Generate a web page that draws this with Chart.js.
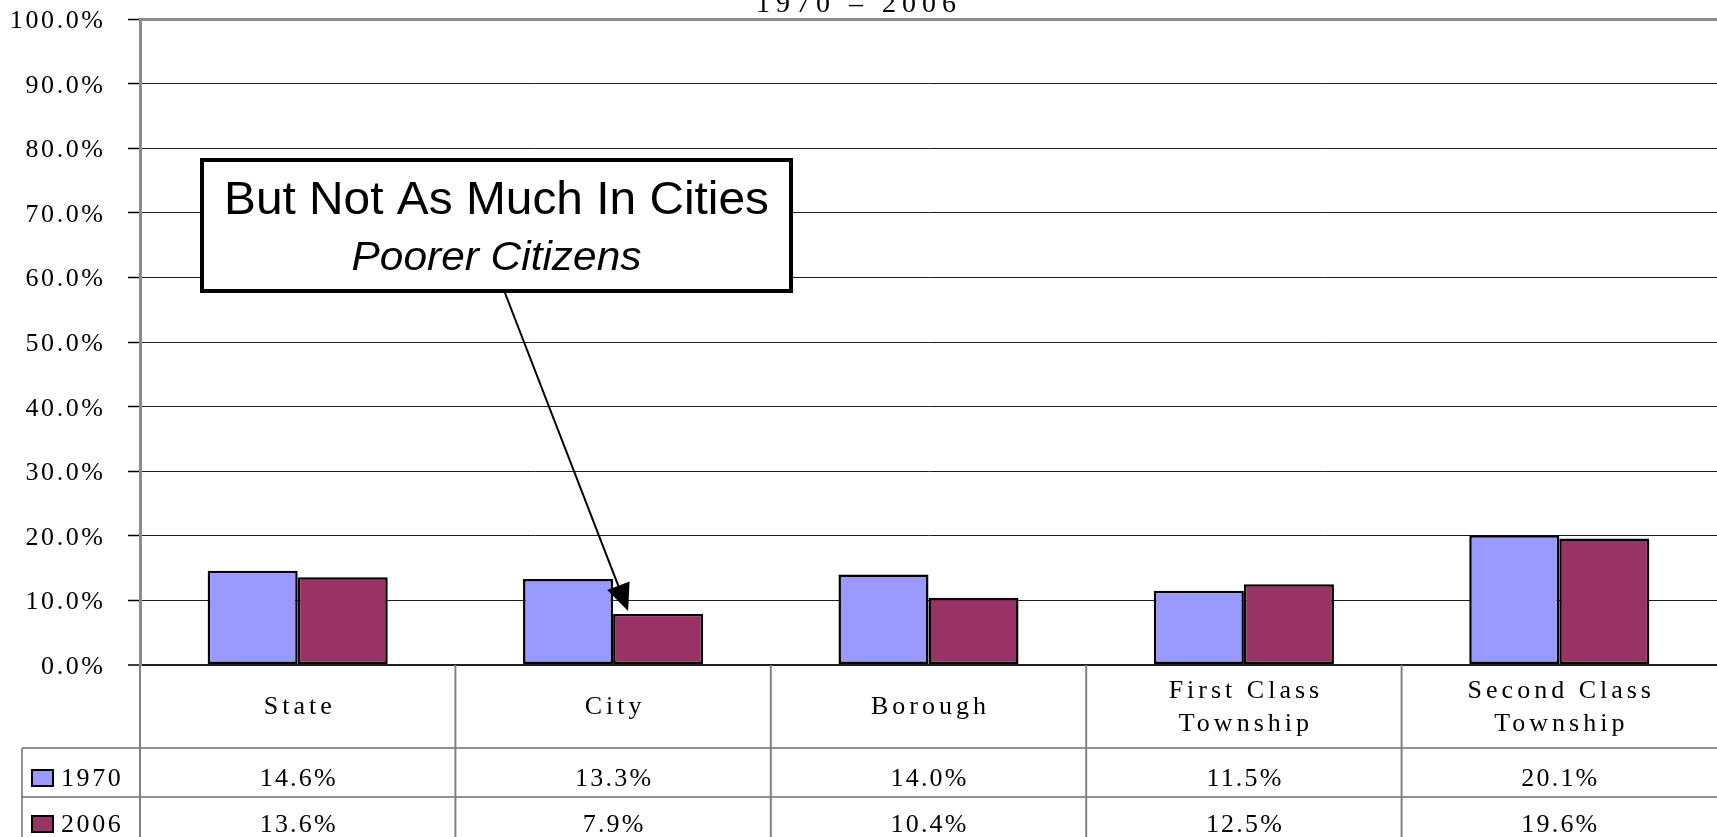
<!DOCTYPE html>
<html>
<head>
<meta charset="utf-8">
<script src="https://cdn.jsdelivr.net/npm/chart.js@4.4.1/dist/chart.umd.min.js"></script>
<style>
  html, body { margin: 0; padding: 0; background: #fff; overflow: hidden; }
  canvas { display: block; }
</style>
</head>
<body>
<canvas id="barChart" width="1717" height="837"></canvas>
<script>
const categories = [['State'], ['City'], ['Borough'], ['First Class', 'Township'], ['Second Class', 'Township']];
const seriesNames = ['1970', '2006'];
const values1970 = [14.6, 13.3, 14.0, 11.5, 20.1];
const values2006 = [13.6, 7.9, 10.4, 12.5, 19.6];
const seriesColors = ['#9999FF', '#993366'];
const yTicks = [0, 10, 20, 30, 40, 50, 60, 70, 80, 90, 100];
const titleText = '1970 \u2013 2006';
const calloutLines = ['But Not As Much In Cities', 'Poorer Citizens'];

const SERIF = '"Liberation Serif", "Times New Roman", serif';
const SANS = '"Liberation Sans", Arial, sans-serif';

function pct(v) {
    return v.toFixed(1) + '%';
}

// text with letter spacing, optional horizontal stretch
function drawText(ctx, str, x, y, font, align, spacing, sx) {
    ctx.save();
    ctx.font = font;
    ctx.fillStyle = '#000';
    ctx.textBaseline = 'alphabetic';
    if ('letterSpacing' in ctx) ctx.letterSpacing = (spacing || 0) + 'px';
    const w = ctx.measureText(str).width - (spacing || 0);
    const s = sx || 1;
    let left = x;
    if (align === 'center') left = x - w * s / 2;
    if (align === 'right') left = x - w * s;
    ctx.translate(left, y);
    ctx.scale(s, 1);
    ctx.textAlign = 'left';
    ctx.fillText(str, 0, 0);
    ctx.restore();
}

const tablePlugin = {
    id: 'tablePlugin',
    afterDraw(chart) {
        const ctx = chart.ctx;
        const xs = chart.scales.x;
        const ys = chart.scales.y;
        const area = chart.chartArea;

        // y tick labels
        ys.ticks.forEach(t => {
            const y = ys.getPixelForValue(t.value);
            drawText(ctx, pct(t.value), 103, y + 9, '26px ' + SERIF, 'right', 2.6);
        });

        // title (second line, mostly cut off at top)
        drawText(ctx, titleText, 856, 12, '28px ' + SERIF, 'center', 6);

        // data table
        const headTop = area.bottom;
        const row1 = 748, row2 = 797, bottom = chart.height;
        const n = categories.length;
        const half = (xs.getPixelForValue(1) - xs.getPixelForValue(0)) / 2;

        ctx.save();
        ctx.strokeStyle = '#6e6e6e';
        ctx.lineWidth = 1.5;
        ctx.beginPath();
        ctx.moveTo(22, row1); ctx.lineTo(area.right, row1);
        ctx.moveTo(22, row2); ctx.lineTo(area.right, row2);
        ctx.moveTo(22, row1); ctx.lineTo(22, bottom);
        ctx.stroke();
        ctx.strokeStyle = '#808080';
        ctx.lineWidth = 2;
        ctx.beginPath();
        ctx.moveTo(area.left, headTop); ctx.lineTo(area.left, bottom);
        for (let i = 0; i < n - 1; i++) {
            const bx = xs.getPixelForValue(i) + half;
            ctx.moveTo(bx, headTop); ctx.lineTo(bx, bottom);
        }
        ctx.stroke();
        ctx.restore();

        categories.forEach((lab, i) => {
            const cx = xs.getPixelForValue(i);
            if (lab.length === 1) {
                drawText(ctx, lab[0], cx, 714, '26px ' + SERIF, 'center', 4);
            } else {
                drawText(ctx, lab[0], cx, 698, '26px ' + SERIF, 'center', 4);
                drawText(ctx, lab[1], cx, 731, '26px ' + SERIF, 'center', 4);
            }
            drawText(ctx, pct(values1970[i]), cx, 786, '26px ' + SERIF, 'center', 2.2);
            drawText(ctx, pct(values2006[i]), cx, 832, '26px ' + SERIF, 'center', 2.2);
        });

        // legend keys in the table
        const keyRows = [786, 832];
        seriesNames.forEach((name, k) => {
            const base = keyRows[k];
            ctx.save();
            ctx.fillStyle = seriesColors[k];
            ctx.strokeStyle = '#000';
            ctx.lineWidth = 2;
            ctx.fillRect(32, base - 16, 21, 16);
            ctx.strokeRect(32, base - 16, 21, 16);
            ctx.restore();
            drawText(ctx, name, 61, base, '26px ' + SERIF, 'left', 2.6);
        });

        // callout box
        const box = { l: 202, t: 160, r: 791, b: 291 };
        ctx.save();
        ctx.fillStyle = '#fff';
        ctx.fillRect(box.l, box.t, box.r - box.l, box.b - box.t);
        ctx.strokeStyle = '#000';
        ctx.lineWidth = 4;
        ctx.strokeRect(box.l, box.t, box.r - box.l, box.b - box.t);
        ctx.restore();
        const bcx = (box.l + box.r) / 2;
        drawText(ctx, calloutLines[0], bcx, 214, '46px ' + SANS, 'center', 0, 1.04);
        drawText(ctx, calloutLines[1], bcx, 270, 'italic 40px ' + SANS, 'center', 0, 1.06);

        // arrow to the 2006 City bar
        const bar = chart.getDatasetMeta(1).data[1];
        const tipX = bar.x - 30, tipY = bar.y - 3;
        const sx = 505, sy = box.b + 2;
        const ang = Math.atan2(tipY - sy, tipX - sx);
        const hl = 27, hw = 12;
        const bx0 = tipX - hl * Math.cos(ang), by0 = tipY - hl * Math.sin(ang);
        ctx.save();
        ctx.strokeStyle = '#000';
        ctx.fillStyle = '#000';
        ctx.lineWidth = 2;
        ctx.beginPath();
        ctx.moveTo(sx, sy);
        ctx.lineTo(bx0, by0);
        ctx.stroke();
        ctx.beginPath();
        ctx.moveTo(tipX, tipY);
        ctx.lineTo(bx0 + hw * Math.sin(ang), by0 - hw * Math.cos(ang));
        ctx.lineTo(bx0 - hw * Math.sin(ang), by0 + hw * Math.cos(ang));
        ctx.closePath();
        ctx.fill();
        ctx.restore();
    }
};

document.addEventListener('DOMContentLoaded', function() {
    const el = document.getElementById('barChart');
    new Chart(el, {
        type: 'bar',
        data: {
            labels: categories,
            datasets: [
                {
                label: seriesNames[0],
                data: values1970,
                backgroundColor: seriesColors[0],
                borderColor: '#000',
                borderWidth: 2.5,
                borderSkipped: false
                },
                {
                label: seriesNames[1],
                data: values2006,
                backgroundColor: seriesColors[1],
                borderColor: '#000',
                borderWidth: 2.5,
                borderSkipped: false
                }
            ]},
        options: {
            responsive: false,
            animation: false,
            events: [],
            layout: { padding: { top: 19, bottom: 172, left: 0, right: 0 } },
            datasets: { bar: { barPercentage: 1.0, categoryPercentage: 0.571 } },
            plugins: {
                legend: { display: false },
                tooltip: { enabled: false }
            },
            scales: {
                x: { display: false },
                y: {
                    min: 0,
                    max: 100,
                    afterFit: s => { s.width = 140; },
                    afterBuildTicks: s => { s.ticks = yTicks.map(v => ({ value: v })); },
                    ticks: { display: false },
                    border: { color: '#8c8c8c', width: 3 },
                    grid: {
                        color: c => c.tick && c.tick.value === 100 ? '#8c8c8c' : '#1e1e1e',
                        lineWidth: c => c.tick && c.tick.value === 100 ? 3 : (c.tick && c.tick.value === 0 ? 2 : 1),
                        drawTicks: true,
                        tickLength: 12,
                        tickColor: '#000',
                        tickWidth: 1.5
                    }
                }
            }
        },
        plugins: [tablePlugin]
    });
});
</script>
</body>
</html>
